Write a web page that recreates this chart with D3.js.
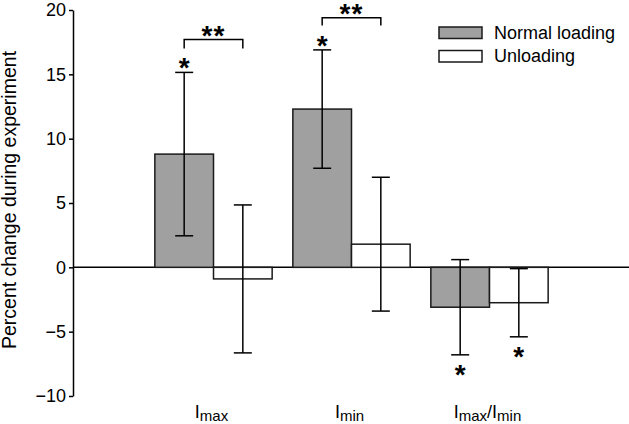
<!DOCTYPE html>
<html>
<head>
<meta charset="utf-8">
<script src="https://cdn.jsdelivr.net/npm/d3@7"></script>
<style>
  body { margin: 0; background: #fff; }
  text { font-family: Arial, "Liberation Sans", sans-serif; fill: #000; }
</style>
</head>
<body>
<div id="chart"></div>
<script>
// chart data
var categories = ["Imax", "Imin", "Imax/Imin"];
var seriesNames = ["Normal loading", "Unloading"];
var normalValues = [8.8, 12.3, -3.1];
var normalErr = [6.35, 4.6, 3.7];
var unloadValues = [-0.9, 1.8, -2.75];
var unloadErr = [5.75, 5.2, 2.65];
var yTicks = [-10, -5, 0, 5, 10, 15, 20];
// significance marks: star above (+1) or below (-1) an error bar
var stars = [
  { cat: "Imax", s: 0, side: 1 },
  { cat: "Imin", s: 0, side: 1 },
  { cat: "Imax/Imin", s: 0, side: -1 },
  { cat: "Imax/Imin", s: 1, side: -1 }
];
var brackets = [
  { cat: "Imax", top: 17.7, leg: 17.0 },
  { cat: "Imin", top: 19.4, leg: 18.8 }
];

var svgWidth = 629, svgHeight = 424;
var axisX = 73;

var svg = d3.select("#chart").append("svg")
  .attr("width", svgWidth)
  .attr("height", svgHeight);

var y = d3.scaleLinear().domain([-10, 20]).range([396, 10]);

var x0 = d3.scaleBand().domain(categories)
  .range([144.5, 558.5])
  .paddingInner(0.15)
  .paddingOuter(0.075);

var x1 = d3.scaleBand().domain([0, 1]).range([0, x0.bandwidth()]);

var bars = [];
categories.forEach(function(c, i) {
  bars.push({ cat: c, s: 0, v: normalValues[i], e: normalErr[i] });
  bars.push({ cat: c, s: 1, v: unloadValues[i], e: unloadErr[i] });
});
function barCx(cat, s) { return x0(cat) + x1(s) + x1.bandwidth() / 2; }
function findBar(cat, s) { return bars.find(function(b) { return b.cat === cat && b.s === s; }); }

// zero line
svg.append("line")
  .attr("x1", axisX).attr("x2", svgWidth)
  .attr("y1", y(0)).attr("y2", y(0))
  .attr("stroke", "#000").attr("stroke-width", 1.5);

// bars
svg.selectAll(".bar").data(bars).enter().append("rect")
  .attr("class", "bar")
  .attr("x", d => x0(d.cat) + x1(d.s))
  .attr("width", x1.bandwidth())
  .attr("y", d => y(Math.max(0, d.v)))
  .attr("height", d => Math.abs(y(d.v) - y(0)))
  .attr("fill", d => d.s === 0 ? "#a0a0a0" : "#fff")
  .attr("stroke", "#1a1a1a")
  .attr("stroke-width", 1.5);

// error bars
var err = svg.selectAll(".err").data(bars).enter().append("g").attr("class", "err");
err.append("line")
  .attr("x1", d => barCx(d.cat, d.s)).attr("x2", d => barCx(d.cat, d.s))
  .attr("y1", d => y(d.v + d.e)).attr("y2", d => y(d.v - d.e));
err.append("line")
  .attr("x1", d => barCx(d.cat, d.s) - 9).attr("x2", d => barCx(d.cat, d.s) + 9)
  .attr("y1", d => y(d.v + d.e)).attr("y2", d => y(d.v + d.e));
err.append("line")
  .attr("x1", d => barCx(d.cat, d.s) - 9).attr("x2", d => barCx(d.cat, d.s) + 9)
  .attr("y1", d => y(d.v - d.e)).attr("y2", d => y(d.v - d.e));
err.selectAll("line").attr("stroke", "#000").attr("stroke-width", 1.5);

// y axis
var yAxis = d3.axisLeft(y).tickValues(yTicks).tickSize(4).tickSizeOuter(0).tickPadding(3);
var gy = svg.append("g")
  .attr("transform", `translate(${axisX},0)`)
  .call(yAxis);
gy.selectAll("path, line").attr("stroke", "#000").attr("stroke-width", 1.5);
gy.selectAll("text").style("font-size", "18px")
  .style("font-family", "Arial, 'Liberation Sans', sans-serif");

// y axis title
svg.append("text")
  .attr("transform", "translate(16,200) rotate(-90)")
  .attr("text-anchor", "middle")
  .style("font-size", "19.5px")
  .text("Percent change during experiment");

// category labels with subscripts
var catLabels = svg.selectAll(".cat").data(categories).enter().append("text")
  .attr("class", "cat")
  .attr("x", d => x0(d) + x0.bandwidth() / 2 - 2)
  .attr("y", 418)
  .attr("text-anchor", "middle")
  .style("font-size", "18px");
catLabels.each(function(d) {
  var t = d3.select(this);
  d.split("/").forEach(function(part, i) {
    if (i > 0) t.append("tspan").attr("dy", -3).text("/");
    t.append("tspan").attr("dy", i > 0 ? 0 : null).text(part.charAt(0));
    t.append("tspan").attr("dy", 3).style("font-size", "15px").text(part.slice(1));
  });
});

// stars
var starSize = 28;
svg.selectAll(".star").data(stars).enter().append("text")
  .attr("class", "star")
  .attr("x", d => barCx(d.cat, d.s))
  .attr("y", function(d) {
    var b = findBar(d.cat, d.s);
    var end = d.side > 0 ? y(b.v + b.e) - 11 : y(b.v - b.e) + 13;
    return end + 0.57 * starSize;
  })
  .attr("text-anchor", "middle")
  .style("font-size", starSize + "px")
  .style("font-weight", "bold")
  .text("*");

// brackets
brackets.forEach(function(b) {
  var xa = barCx(b.cat, 0), xb = barCx(b.cat, 1);
  svg.append("path")
    .attr("d", `M${xa},${y(b.leg)}V${y(b.top)}H${xb}V${y(b.leg)}`)
    .attr("fill", "none").attr("stroke", "#000").attr("stroke-width", 1.5);
  svg.append("text")
    .attr("x", (xa + xb) / 2)
    .attr("y", y(b.top) - 11 + 0.57 * starSize)
    .attr("text-anchor", "middle")
    .style("font-size", starSize + "px")
    .style("font-weight", "bold")
    .attr("letter-spacing", 1)
    .text("**");
});

// legend
var legend = svg.selectAll(".legend").data(seriesNames).enter().append("g")
  .attr("class", "legend")
  .attr("transform", (d, i) => `translate(439,${27 + i * 23.5})`);
legend.append("rect")
  .attr("width", 43).attr("height", 11.5)
  .attr("fill", (d, i) => i === 0 ? "#a0a0a0" : "#fff")
  .attr("stroke", "#1a1a1a").attr("stroke-width", 1.5);
legend.append("text")
  .attr("x", 55).attr("y", 11.5)
  .style("font-size", "18px")
  .text(d => d);
</script>
</body>
</html>
